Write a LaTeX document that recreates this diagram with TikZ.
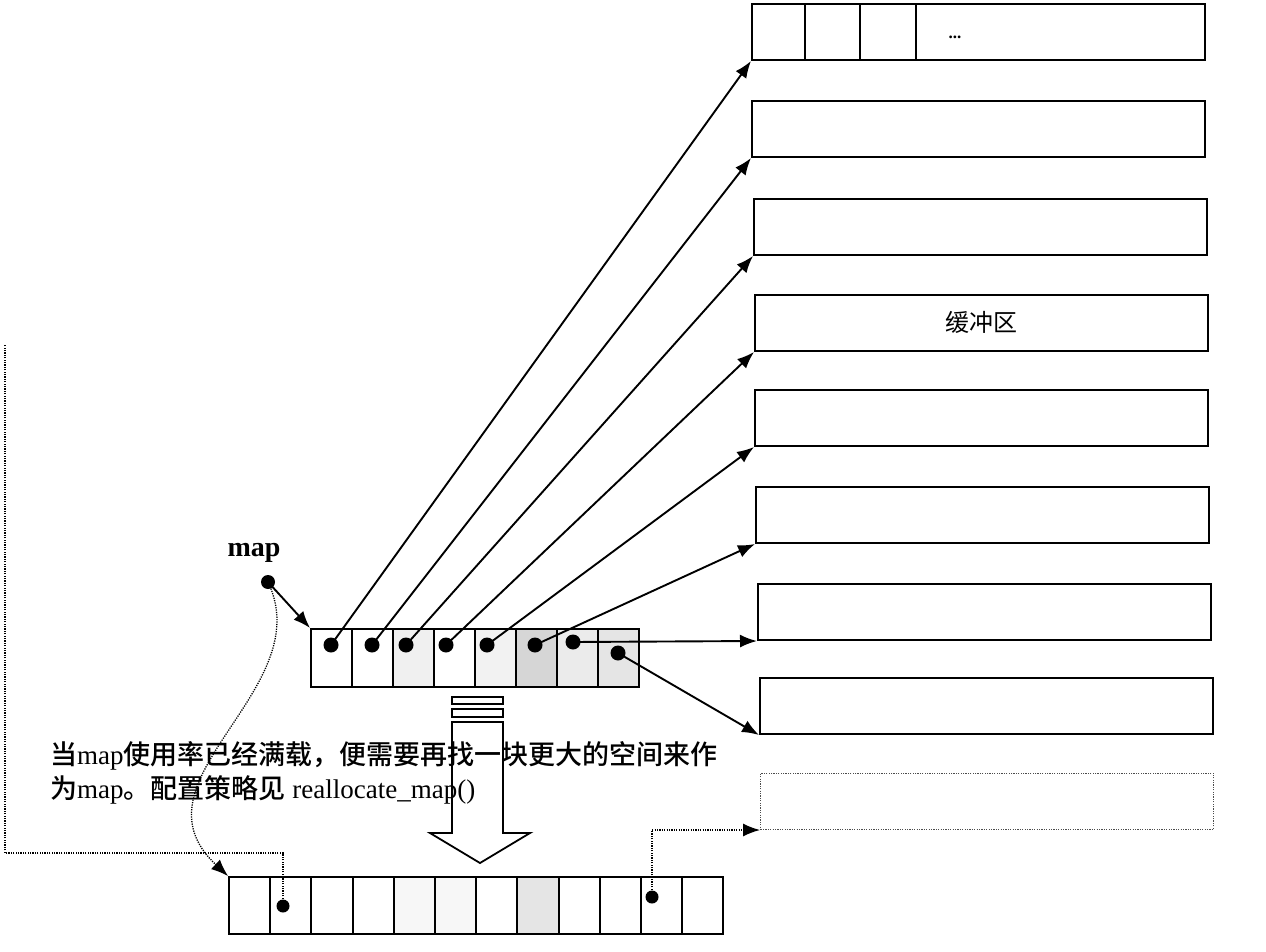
\documentclass[tikz,border=0pt]{standalone}
\usepackage{fontspec}
\setmainfont{Liberation Serif}
\newfontfamily\cjk{Noto Sans CJK SC}
\newfontfamily\cjkm{Noto Sans CJK SC Medium}
\usetikzlibrary{arrows.meta}

\begin{document}
\begin{tikzpicture}[x=1pt,y=-1pt,
  buf/.style={draw, line width=2.2pt, minimum width=453pt, minimum height=56pt, inner sep=0pt, anchor=south west},
  cell/.style={draw, line width=2pt, minimum width=41pt, minimum height=58pt, inner sep=0pt, anchor=north west},
  ptr/.style={line width=1.9pt, -{Latex[length=17pt,width=13pt]}},
  dotln/.style={line width=1.3pt, dash pattern=on 1.2pt off 1.2pt},
  dot/.style={circle, fill=black, inner sep=0pt, minimum size=15pt}]
\useasboundingbox (0,0) rectangle (1266,952);
% buffers
\foreach \i/\x/\y in {1/751/61, 2/751/158, 3/753/256, 4/754/352, 5/754/447, 6/755/544, 7/757/641, 8/759/735}
  \node[buf] (b\i) at (\x,\y) {};
\node[buf, dotln, draw=black!70] (b9) at (760,830) {};
\foreach \s in {54,109,165}
  \draw[line width=2pt] ([xshift=\s pt]b1.south west) -- ([xshift=\s pt]b1.north west);
\node[font=\bfseries\fontsize{17}{17}\selectfont] (ell) at (955,37) {...};
\node[font=\fontsize{24}{24}\selectfont] (bufname) at (b4.center) {\cjk 缓冲区};
% map
\foreach \i/\s in {1/0,2/0,3/6,4/0,5/5,6/16,7/8,8/10}
  \node[cell, fill=black!\s] (m\i) at ({310+41*(\i-1)},628) {};
\foreach \i/\x/\y in {1/331/645, 2/372/645, 3/406/645, 4/446/645, 5/487/645, 6/535/645, 7/573/642, 8/618/653}
  \node[dot] (d\i) at (\x,\y) {};
\foreach \i in {1,...,8}
  \draw[ptr] (d\i.center) -- (b\i.south west);
\node[font=\bfseries\fontsize{28}{28}\selectfont] (maplbl) at (254,553) {map};
\node[dot, minimum size=14pt] (mapdot) at (268,582) {};
\draw[ptr] (mapdot.center) -- (m1.north west);
% new map
\foreach \i/\s in {1/0,2/0,3/0,4/0,5/3,6/3,7/0,8/10,9/0,10/0,11/0,12/0}
  \node[cell, minimum height=57pt, minimum width=41.2pt, fill=black!\s] (n\i) at ({228+41.2*(\i-1)},876) {};
\node[dot, minimum size=13pt] (e2) at (283,906) {};
\node[dot, minimum size=13pt] (e11) at (652,897) {};
\coordinate (lturn) at (5,853);
\coordinate (ltop) at (5,345);
\draw[dotln] (e2.center) |- (lturn) -- (ltop);
\draw[dotln, -{Latex[length=17pt,width=13pt]}] (e11.center) |- (b9.south west);
\draw[dotln, -{Latex[length=17pt,width=13pt]}] (mapdot.center) .. controls (320,690) and (125,780) .. (n1.north west);
% big arrow
\draw[line width=1.8pt] (452,697) rectangle (503,704);
\draw[line width=1.8pt] (452,709) rectangle (503,717);
\draw[line width=1.8pt, line join=miter] (452,722) -- (452,833) -- (430,833) -- (480,863) -- (530,833) -- (503,833) -- (503,722) -- cycle;
% note
\node[anchor=base west, inner sep=0pt, font=\fontsize{27}{27}\selectfont] (note1) at (50,764)
  {{\cjkm 当}map{\cjkm 使用率已经满载，便需要再找一块更大的空间来作}};
\node[anchor=base west, inner sep=0pt, font=\fontsize{27}{27}\selectfont] (note2) at (50,798)
  {{\cjkm 为}map{\cjkm 。配置策略见} reallocate\_map()};
\end{tikzpicture}
\end{document}
